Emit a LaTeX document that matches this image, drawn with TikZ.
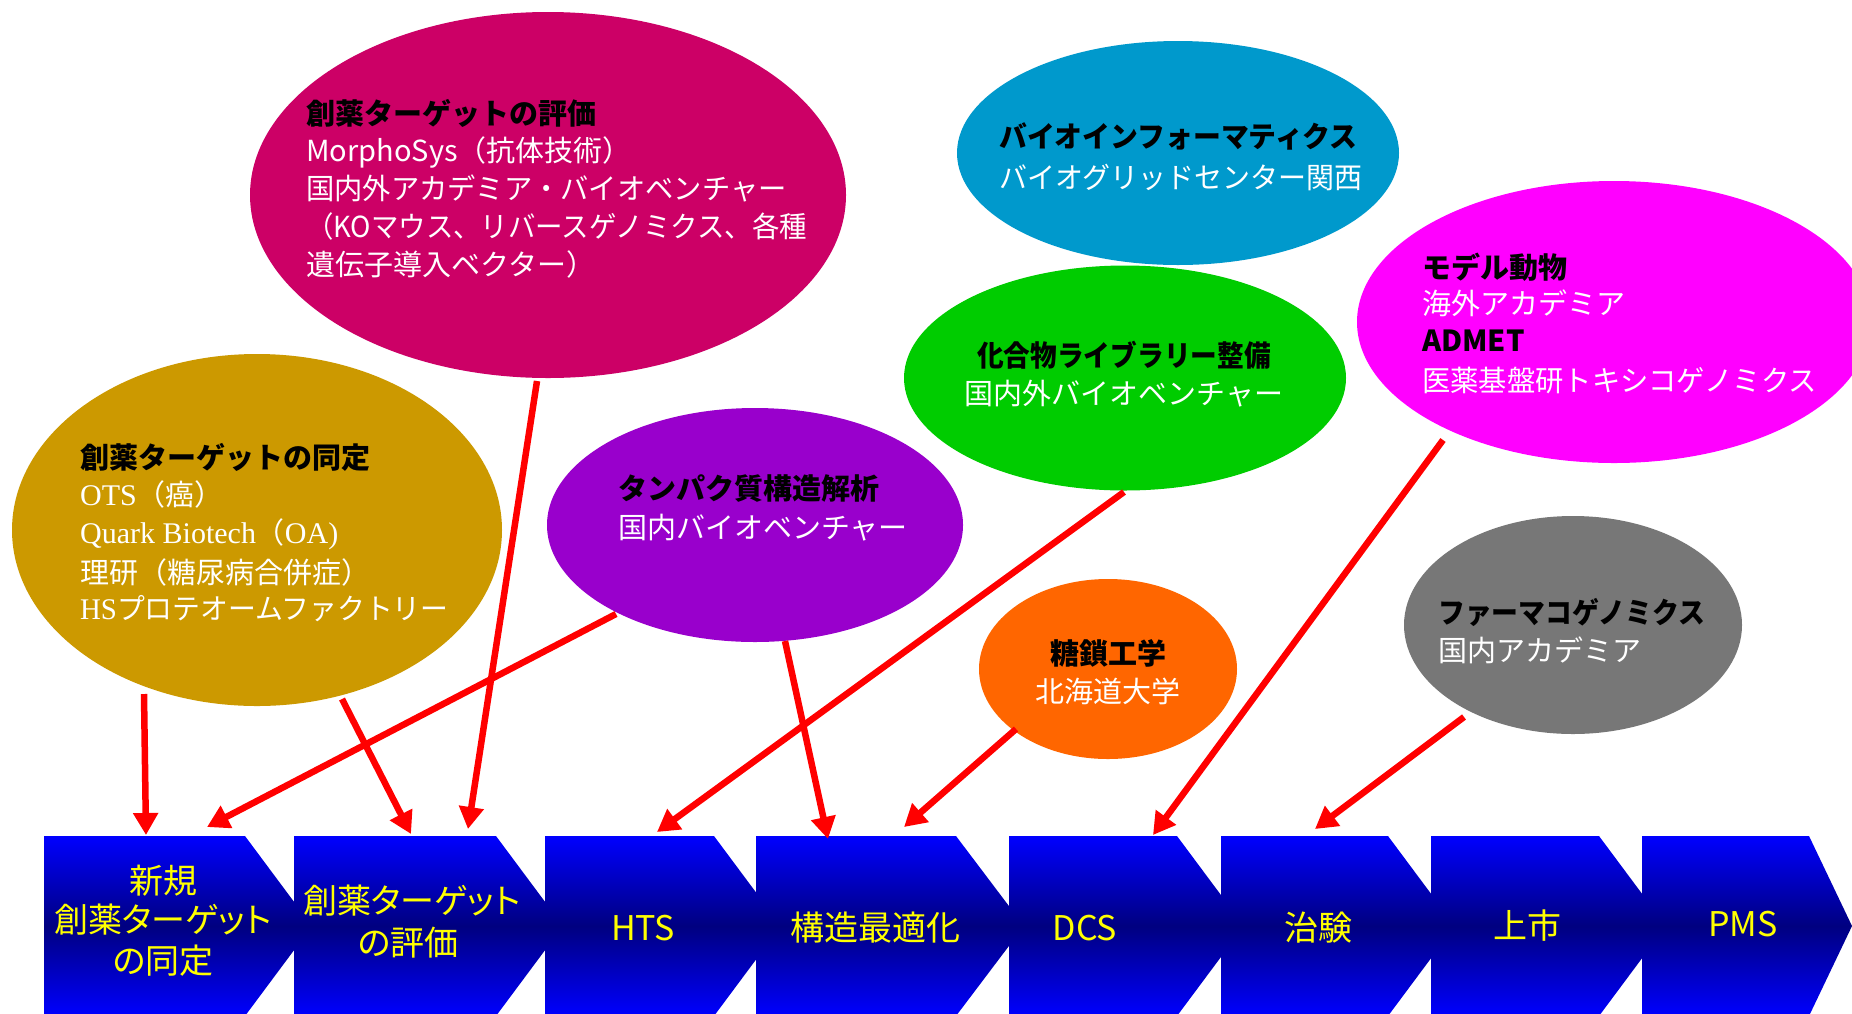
\documentclass[tikz,border=0pt]{standalone}
\usepackage{graphicx}
\usepackage{fontspec}
\setmainfont{Noto Sans CJK JP}
\newfontfamily\chevfont{Noto Sans CJK JP}[RawFeature=+palt]
\newfontfamily\lserif{Liberation Serif}
\usetikzlibrary{shapes.geometric,arrows.meta}
\definecolor{cgold}{HTML}{CC9900}
\definecolor{ccrim}{HTML}{CC0066}
\definecolor{cpurp}{HTML}{9900CC}
\definecolor{cblue}{HTML}{0099CC}
\definecolor{cgreen}{HTML}{00CC00}
\definecolor{cmag}{HTML}{FF00FF}
\definecolor{corange}{HTML}{FF6600}
\definecolor{cgray}{HTML}{777777}
\definecolor{cnavy}{HTML}{000080}
\definecolor{cchevblue}{HTML}{0000FF}
\definecolor{cyel}{HTML}{FFFF00}
\definecolor{cred}{HTML}{FF0000}
\newcommand{\mychev}[3]{%
  \shade[top color=cchevblue,bottom color=cchevblue,middle color=cnavy]
    (#1,836) -- (#2,836) -- (#3,926) -- (#2,1016) -- (#1,1016) -- cycle;}
\newcommand{\sq}[2]{\scalebox{#1}[1]{#2}}
\newcommand{\ser}[1]{{\lserif\fontsize{30}{30}\selectfont #1}}
\begin{document}
\begin{tikzpicture}[x=1pt,y=-1pt,
  blob/.style={ellipse,inner sep=0pt,draw=none},
  ttl/.style={anchor=west,inner sep=0pt,text height=25.5pt,text depth=3.5pt,
    font=\bfseries\fontsize{29}{29}\selectfont,text=black},
  bdy/.style={anchor=west,inner sep=0pt,text height=25.5pt,text depth=3.5pt,
    font=\fontsize{29}{29}\selectfont,text=white},
  ctr/.style={anchor=center},
  chevtxt/.style={anchor=center,inner sep=0pt,text height=30pt,text depth=4pt,
    font=\chevfont\fontsize{34}{34}\selectfont,text=cyel},
  arr/.style={draw=cred,line width=6.5pt,-{Triangle[length=22pt,width=24pt]}}]
\useasboundingbox (0,0) rectangle (1852,1013);
\clip (0,0) rectangle (1852,1013);
\fill[white] (0,0) rectangle (1852,1013);

% ellipses
\node[blob,fill=cgold,minimum width=490pt,minimum height=352pt] (gold) at (257,530) {};
\node[blob,fill=ccrim,minimum width=596pt,minimum height=366pt] (crim) at (548,195) {};
\node[blob,fill=cpurp,minimum width=416pt,minimum height=234pt] (purp) at (755,525) {};
\node[blob,fill=cgreen,minimum width=442pt,minimum height=225pt] (green) at (1125,378) {};
\node[blob,fill=cblue,minimum width=442pt,minimum height=224pt] (blue) at (1178,153) {};
\node[blob,fill=cmag,minimum width=514pt,minimum height=282pt] (mag) at (1614,322) {};
\node[blob,fill=corange,minimum width=258pt,minimum height=180pt] (orng) at (1108,669) {};
\node[blob,fill=cgray,minimum width=338pt,minimum height=218pt] (gray) at (1573,625) {};

% ellipse texts
\node[ttl] (g0) at (80,457) {創薬ターゲットの同定};
\node[bdy] (g1) at (80,494) {\ser{OTS}（癌）};
\node[bdy] (g2) at (80,532) {\ser{Quark Biotech}（\ser{OA)}};
\node[bdy] (g3) at (80,572) {理研（糖尿病合併症）};
\node[bdy] (g4) at (80,608) {\sq{0.96}{\ser{HS}プロテオームファクトリー}};

\node[ttl] (c0) at (306,113) {創薬ターゲットの評価};
\node[bdy] (c1) at (306,150) {MorphoSys（抗体技術）};
\node[bdy] (c2) at (306,188) {\sq{0.975}{国内外アカデミア・バイオベンチャー}};
\node[bdy] (c3) at (306,226) {\sq{0.946}{（KOマウス、リバースゲノミクス、各種}};
\node[bdy] (c4) at (306,264) {遺伝子導入ベクター）};

\node[ttl] (p0) at (618,488) {タンパク質構造解析};
\node[bdy] (p1) at (618,527) {国内バイオベンチャー};

\node[ttl] (b0) at (999,136) {\sq{0.96}{バイオインフォーマティクス}};
\node[bdy] (b1) at (999,177) {\sq{0.965}{バイオグリッドセンター関西}};

\node[ttl,ctr] (gr0) at (1124,355) {\sq{0.92}{化合物ライブラリー整備}};
\node[bdy,ctr] (gr1) at (1124,393) {国内外バイオベンチャー};

\node[ttl] (m0) at (1422,267) {モデル動物};
\node[bdy] (m1) at (1422,303) {海外アカデミア};
\node[ttl] (m2) at (1422,340) {ADMET};
\node[bdy] (m3) at (1422,380) {\sq{0.976}{医薬基盤研トキシコゲノミクス}};

\node[ttl,ctr] (o0) at (1108,653) {糖鎖工学};
\node[bdy,ctr] (o1) at (1108,691) {北海道大学};

\node[ttl] (y0) at (1438,612) {\sq{0.925}{ファーマコゲノミクス}};
\node[bdy] (y1) at (1438,650) {国内アカデミア};

% chevrons
\mychev{44}{245}{312}
\mychev{294}{496}{563}
\mychev{545}{714}{781}
\mychev{756}{956}{1024}
\mychev{1009}{1177}{1244}
\mychev{1221}{1388}{1455}
\mychev{1431}{1599}{1666}
\mychev{1642}{1809}{1852}

\node[chevtxt] (k1a) at (163,880) {新規};
\node[chevtxt] (k1b) at (163,919) {創薬ターゲット};
\node[chevtxt] (k1c) at (163,960) {の同定};
\node[chevtxt] (k2a) at (412,900) {創薬ターゲット};
\node[chevtxt] (k2b) at (408,942) {の評価};
\node[chevtxt] (k3) at (643,927) {HTS};
\node[chevtxt] (k4) at (875,927) {構造最適化};
\node[chevtxt] (k5) at (1085,927) {DCS};
\node[chevtxt] (k6) at (1318,927) {治験};
\node[chevtxt] (k7) at (1527,925) {上市};
\node[chevtxt] (k8) at (1743,923) {PMS};

% connector end points
\coordinate (gold-a) at (144,694);  \coordinate (ch1-a) at (146,835);
\coordinate (gold-b) at (342,699);  \coordinate (ch2-a) at (411,834);
\coordinate (crim-a) at (537,381);  \coordinate (ch2-b) at (468,829);
\coordinate (purp-a) at (616,614);  \coordinate (ch1-b) at (207,827);
\coordinate (purp-b) at (785,641);  \coordinate (ch4-a) at (828,839);
\coordinate (green-a) at (1124,492); \coordinate (ch3-a) at (657,832);
\coordinate (orng-a) at (1016,729); \coordinate (ch4-b) at (904,827);
\coordinate (mag-a) at (1443,440);  \coordinate (ch5-a) at (1153,835);
\coordinate (gray-a) at (1464,717); \coordinate (ch6-a) at (1315,829);

\draw[arr] (gold-a) -- (ch1-a);
\draw[arr] (gold-b) -- (ch2-a);
\draw[arr] (crim-a) -- (ch2-b);
\draw[arr] (purp-a) -- (ch1-b);
\draw[arr] (purp-b) -- (ch4-a);
\draw[arr] (green-a) -- (ch3-a);
\draw[arr] (orng-a) -- (ch4-b);
\draw[arr] (mag-a) -- (ch5-a);
\draw[arr] (gray-a) -- (ch6-a);
\end{tikzpicture}
\end{document}
